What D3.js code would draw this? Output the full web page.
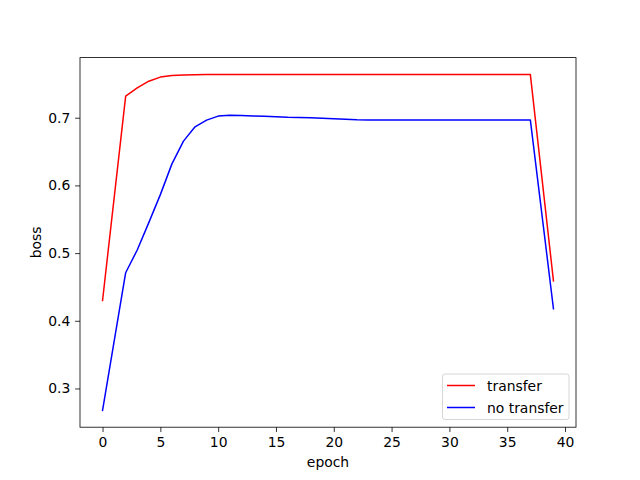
<!DOCTYPE html>
<html>
<head>
<meta charset="utf-8">
<script src="https://cdn.jsdelivr.net/npm/d3@7"></script>
<style>
  body { margin: 0; background: #fff; }
  text { font-family: "DejaVu Sans", sans-serif; }
</style>
</head>
<body>
<svg id="chart" width="640" height="480"></svg>
<script>
const epochs = [0, 2, 3, 4, 5, 6, 7, 8, 9, 10, 11, 12, 13, 14, 15, 16, 17, 18, 19, 20, 21, 22, 23, 24, 25, 26, 27, 28, 29, 30, 31, 32, 33, 34, 35, 36, 37, 39];
const transfer = [0.430, 0.732, 0.744, 0.754, 0.760, 0.7625, 0.763, 0.7635, 0.764, 0.764, 0.764, 0.764, 0.764, 0.764, 0.764, 0.764, 0.764, 0.764, 0.764, 0.764, 0.764, 0.764, 0.764, 0.764, 0.764, 0.764, 0.764, 0.764, 0.764, 0.764, 0.764, 0.764, 0.764, 0.764, 0.764, 0.764, 0.764, 0.459];
const noTransfer = [0.2676, 0.471, 0.5046, 0.545, 0.5864, 0.6318, 0.6654, 0.6866, 0.6964, 0.7024, 0.7036, 0.7032, 0.7027, 0.7021, 0.7015, 0.7008, 0.7005, 0.7000, 0.6992, 0.6985, 0.6978, 0.6970, 0.6968, 0.6968, 0.6968, 0.6968, 0.6968, 0.6968, 0.6968, 0.6968, 0.6968, 0.6968, 0.6968, 0.6968, 0.6968, 0.6968, 0.6968, 0.4178];
const seriesNames = ["transfer", "no transfer"];
const seriesColors = ["#ff0000", "#0000ff"];
const xTicks = [0, 5, 10, 15, 20, 25, 30, 35, 40];
const yTicks = [0.3, 0.4, 0.5, 0.6, 0.7];
const xLabel = "epoch";
const yLabel = "boss";

const svg = d3.select("#chart");
const pLeft = 80, pRight = 576, pTop = 57.6, pBottom = 427.2;

const allY = transfer.concat(noTransfer);
const xmin = d3.min(epochs), xmax = d3.max(epochs);
const ymin = d3.min(allY), ymax = d3.max(allY);
const xm = (xmax - xmin) * 0.05, ym = (ymax - ymin) * 0.05;

const x = d3.scaleLinear().domain([xmin - xm, xmax + xm]).range([pLeft, pRight]);
const y = d3.scaleLinear().domain([ymin - ym, ymax + ym]).range([pBottom, pTop]);

const series = [transfer, noTransfer];
const line = d3.line().x((d, i) => x(epochs[i])).y(d => y(d));

const plot = svg.append("g");
plot.append("clipPath").attr("id", "clip").append("rect")
  .attr("x", pLeft).attr("y", pTop).attr("width", pRight - pLeft).attr("height", pBottom - pTop);

series.forEach((s, k) => {
  plot.append("path")
    .datum(s)
    .attr("d", line)
    .attr("fill", "none")
    .attr("stroke", seriesColors[k])
    .attr("stroke-width", 1.5)
    .attr("stroke-linejoin", "round")
    .attr("stroke-linecap", "square")
    .attr("clip-path", "url(#clip)");
});

const fontSize = 13.9;
const xAxis = d3.axisBottom(x).tickValues(xTicks).tickFormat(d3.format("d")).tickSize(4.86).tickPadding(4.86);
const yAxis = d3.axisLeft(y).tickValues(yTicks).tickFormat(d3.format(".1f")).tickSize(4.86).tickPadding(4.86);

const gx = svg.append("g").attr("transform", `translate(0,${pBottom})`).call(xAxis);
const gy = svg.append("g").attr("transform", `translate(${pLeft},0)`).call(yAxis);
[gx, gy].forEach(g => {
  g.select(".domain").remove();
  g.selectAll(".tick line").attr("stroke", "#000").attr("stroke-width", 0.8);
  g.selectAll(".tick text").attr("fill", "#000").attr("font-size", fontSize).attr("font-family", "DejaVu Sans");
});

svg.append("rect")
  .attr("x", pLeft).attr("y", pTop).attr("width", pRight - pLeft).attr("height", pBottom - pTop)
  .attr("fill", "none").attr("stroke", "#000").attr("stroke-width", 0.8);

svg.append("text").attr("x", (pLeft + pRight) / 2).attr("y", 467)
  .attr("text-anchor", "middle").attr("font-size", fontSize).text(xLabel);
svg.append("text").attr("transform", `translate(41,${(pTop + pBottom) / 2}) rotate(-90)`)
  .attr("text-anchor", "middle").attr("font-size", fontSize).text(yLabel);

const lg = svg.append("g");
lg.append("rect").attr("x", 442.5).attr("y", 374).attr("width", 126.5).attr("height", 45.5)
  .attr("rx", 2.5).attr("fill", "#fff").attr("fill-opacity", 0.8)
  .attr("stroke", "#cccccc").attr("stroke-width", 0.8);
seriesNames.forEach((name, k) => {
  const yy = 385.5 + k * 22;
  lg.append("line").attr("x1", 447).attr("x2", 475).attr("y1", yy).attr("y2", yy)
    .attr("stroke", seriesColors[k]).attr("stroke-width", 1.5);
  lg.append("text").attr("x", 487).attr("y", yy + 5).attr("font-size", fontSize).text(name);
});
</script>
</body>
</html>
